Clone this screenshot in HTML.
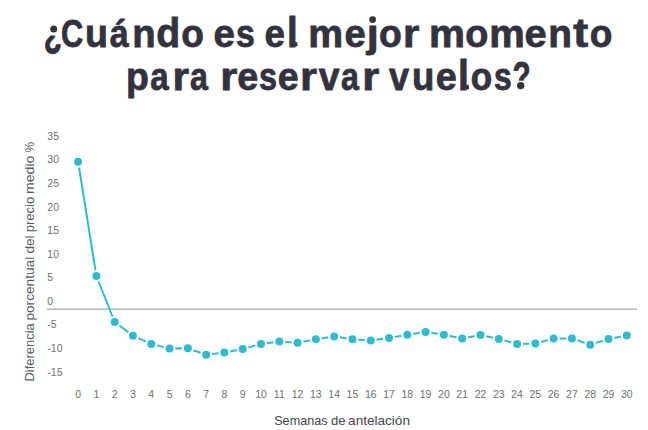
<!DOCTYPE html>
<html><head><meta charset="utf-8"><title>¿Cuándo es el mejor momento para reservar vuelos?</title>
<style>html,body{margin:0;padding:0;background:#fff;}body{width:648px;height:430px;overflow:hidden;font-family:"Liberation Sans",sans-serif;}svg{display:block;}</style>
</head><body>
<svg width="648" height="430" viewBox="0 0 648 430" role="img" aria-label="¿Cuándo es el mejor momento para reservar vuelos?">
<defs><clipPath id="c0"><rect x="40" y="35.6" width="26" height="24.4"/></clipPath><clipPath id="c1"><rect x="360" y="24.6" width="22" height="35.4"/></clipPath><clipPath id="c2"><rect x="508" y="55" width="27" height="25.799999999999997"/></clipPath></defs>
<g font-family="Liberation Sans, sans-serif" font-weight="bold" font-size="39" fill="#33333f" stroke="#33333f" stroke-width="0.8">
<g>
<g clip-path="url(#c0)"><text transform="translate(43.87,47.27) scale(0.761,1.076)">¿</text></g><circle cx="53.7" cy="29.0" r="3.5" stroke="none"/>
<text transform="translate(61.06,46.70) scale(0.791,1.000)">C</text>
<text transform="translate(84.89,46.70) scale(0.964,1.000)">u</text>
<text transform="translate(109.86,46.70) scale(0.873,1.000)">á</text>
<text transform="translate(132.30,46.70) scale(0.980,1.000)">n</text>
<text transform="translate(156.31,46.70) scale(1.005,1.040)">d</text>
<text transform="translate(181.17,46.70) scale(0.951,1.000)">o</text>
</g>
<g>
<text transform="translate(213.62,46.70) scale(0.985,1.000)">e</text>
<text transform="translate(235.93,46.70) scale(0.869,1.000)">s</text>
</g>
<g>
<text transform="translate(264.48,46.70) scale(0.943,1.000)">e</text>
<text transform="translate(286.94,46.70) scale(0.983,1.079)">l</text>
</g>
<g>
<text transform="translate(308.23,46.70) scale(1.006,1.000)">m</text>
<text transform="translate(344.53,46.70) scale(0.980,1.000)">e</text>
<g clip-path="url(#c1)"><text transform="translate(366.80,46.70) scale(1.110,1.000)">j</text></g><circle cx="372.6" cy="19.6" r="3.4" stroke="none"/>
<text transform="translate(379.06,46.70) scale(0.956,1.000)">o</text>
<text transform="translate(402.95,46.70) scale(1.079,1.000)">r</text>
</g>
<g>
<text transform="translate(428.96,46.70) scale(1.036,1.000)">m</text>
<text transform="translate(465.34,46.70) scale(0.970,1.000)">o</text>
<text transform="translate(489.19,46.70) scale(1.023,1.000)">m</text>
<text transform="translate(524.56,46.70) scale(1.023,1.000)">e</text>
<text transform="translate(548.16,46.70) scale(0.996,1.000)">n</text>
<text transform="translate(573.33,46.70) scale(1.150,1.034)">t</text>
<text transform="translate(589.77,46.70) scale(0.951,1.000)">o</text>
</g>
<g>
<text transform="translate(126.05,89.50) scale(0.960,1.000)">p</text>
<text transform="translate(150.25,89.50) scale(0.849,1.000)">a</text>
<text transform="translate(172.43,89.50) scale(1.087,1.000)">r</text>
<text transform="translate(190.08,89.50) scale(0.825,1.000)">a</text>
</g>
<g>
<text transform="translate(220.14,89.50) scale(1.120,1.000)">r</text>
<text transform="translate(237.24,89.50) scale(0.970,1.000)">e</text>
<text transform="translate(259.08,89.50) scale(0.831,1.000)">s</text>
<text transform="translate(277.75,89.50) scale(0.964,1.000)">e</text>
<text transform="translate(299.94,89.50) scale(1.120,1.000)">r</text>
<text transform="translate(318.67,89.50) scale(0.958,1.000)">v</text>
<text transform="translate(341.08,89.50) scale(0.825,1.000)">a</text>
<text transform="translate(362.14,89.50) scale(1.120,1.000)">r</text>
</g>
<g>
<text transform="translate(388.98,89.50) scale(0.925,1.000)">v</text>
<text transform="translate(411.95,89.50) scale(0.938,1.000)">u</text>
<text transform="translate(435.74,89.50) scale(0.970,1.000)">e</text>
<text transform="translate(458.09,89.50) scale(1.002,1.072)">l</text>
<text transform="translate(470.75,89.50) scale(0.898,1.000)">o</text>
<text transform="translate(494.00,89.50) scale(0.815,1.000)">s</text>
<g clip-path="url(#c2)"><text transform="translate(512.56,89.50) scale(0.761,1.036)">?</text></g><circle cx="520.7" cy="85.6" r="3.7" stroke="none"/>
</g>
<path d="M294.8,41.9 L297.3,42.2 L297.5,46.3 L294.6,46.6 Z M466.2,84.6 L468.8,84.9 L469.0,89.2 L465.9,89.5 Z" stroke="none"/>
</g>
<g font-family="Liberation Sans, sans-serif" font-size="10.5" fill="#6e6e6e">
<text x="47.3" y="139.81">35</text>
<text x="47.3" y="163.38">30</text>
<text x="47.3" y="186.95">25</text>
<text x="47.3" y="210.52">20</text>
<text x="47.3" y="234.09">15</text>
<text x="47.3" y="257.66">10</text>
<text x="47.3" y="281.23">5</text>
<text x="47.3" y="304.80">0</text>
<text x="47.3" y="328.37">-5</text>
<text x="47.3" y="351.94">-10</text>
<text x="47.3" y="375.51">-15</text>
</g>
<line x1="47" y1="309.25" x2="637" y2="309.25" stroke="#b5b5b5" stroke-width="1.5"/>
<g font-family="Liberation Sans, sans-serif" font-size="10.5" fill="#6e6e6e" text-anchor="middle">
<text x="78.10" y="397.6">0</text>
<text x="96.39" y="397.6">1</text>
<text x="114.68" y="397.6">2</text>
<text x="132.97" y="397.6">3</text>
<text x="151.26" y="397.6">4</text>
<text x="169.55" y="397.6">5</text>
<text x="187.84" y="397.6">6</text>
<text x="206.13" y="397.6">7</text>
<text x="224.42" y="397.6">8</text>
<text x="242.71" y="397.6">9</text>
<text x="261.00" y="397.6">10</text>
<text x="279.29" y="397.6">11</text>
<text x="297.58" y="397.6">12</text>
<text x="315.87" y="397.6">13</text>
<text x="334.16" y="397.6">14</text>
<text x="352.45" y="397.6">15</text>
<text x="370.74" y="397.6">16</text>
<text x="389.03" y="397.6">17</text>
<text x="407.32" y="397.6">18</text>
<text x="425.61" y="397.6">19</text>
<text x="443.90" y="397.6">20</text>
<text x="462.19" y="397.6">21</text>
<text x="480.48" y="397.6">22</text>
<text x="498.77" y="397.6">23</text>
<text x="517.06" y="397.6">24</text>
<text x="535.35" y="397.6">25</text>
<text x="553.64" y="397.6">26</text>
<text x="571.93" y="397.6">27</text>
<text x="590.22" y="397.6">28</text>
<text x="608.51" y="397.6">29</text>
<text x="626.80" y="397.6">30</text>
</g>
<g font-family="Liberation Sans, sans-serif" font-size="13" fill="#45454d">
<text x="274.23" y="424.9" textLength="53.23" lengthAdjust="spacingAndGlyphs">Semanas</text>
<text x="331.05" y="424.9" textLength="14.53" lengthAdjust="spacingAndGlyphs">de</text>
<text x="348.12" y="424.9" textLength="61.86" lengthAdjust="spacingAndGlyphs">antelación</text>
</g>
<g transform="translate(33.9,0) rotate(-90)" font-family="Liberation Sans, sans-serif" font-size="12.5" fill="#58585f">
<text x="-381.56" y="0" textLength="58.26" lengthAdjust="spacingAndGlyphs">Diferencia</text>
<text x="-320.58" y="0" textLength="63.79" lengthAdjust="spacingAndGlyphs">porcentual</text>
<text x="-253.57" y="0" textLength="18.18" lengthAdjust="spacingAndGlyphs">del</text>
<text x="-232.24" y="0" textLength="35.38" lengthAdjust="spacingAndGlyphs">precio</text>
<text x="-194.14" y="0" textLength="38.43" lengthAdjust="spacingAndGlyphs">medio</text>
<text x="-152.53" y="0" textLength="10.65" lengthAdjust="spacingAndGlyphs">%</text>
</g>
<polyline points="78.10,161.70 96.39,276.00 114.68,322.00 132.97,335.80 151.26,343.90 169.55,348.60 187.84,348.30 206.13,354.70 224.42,352.40 242.71,349.00 261.00,343.90 279.29,341.60 297.58,342.70 315.87,339.30 334.16,336.50 352.45,339.30 370.74,340.50 389.03,338.10 407.32,334.80 425.61,332.00 443.90,334.80 462.19,338.50 480.48,335.10 498.77,338.90 517.06,344.00 535.35,343.50 553.64,338.60 571.93,338.50 590.22,344.80 608.51,338.90 626.80,335.40" fill="none" stroke="#2ebbd0" stroke-width="2" stroke-linejoin="round"/>
<circle cx="78.10" cy="161.70" r="5" fill="#2ebbd0" stroke="#fff" stroke-width="2"/>
<circle cx="96.39" cy="276.00" r="5" fill="#2ebbd0" stroke="#fff" stroke-width="2"/>
<circle cx="114.68" cy="322.00" r="5" fill="#2ebbd0" stroke="#fff" stroke-width="2"/>
<circle cx="132.97" cy="335.80" r="5" fill="#2ebbd0" stroke="#fff" stroke-width="2"/>
<circle cx="151.26" cy="343.90" r="5" fill="#2ebbd0" stroke="#fff" stroke-width="2"/>
<circle cx="169.55" cy="348.60" r="5" fill="#2ebbd0" stroke="#fff" stroke-width="2"/>
<circle cx="187.84" cy="348.30" r="5" fill="#2ebbd0" stroke="#fff" stroke-width="2"/>
<circle cx="206.13" cy="354.70" r="5" fill="#2ebbd0" stroke="#fff" stroke-width="2"/>
<circle cx="224.42" cy="352.40" r="5" fill="#2ebbd0" stroke="#fff" stroke-width="2"/>
<circle cx="242.71" cy="349.00" r="5" fill="#2ebbd0" stroke="#fff" stroke-width="2"/>
<circle cx="261.00" cy="343.90" r="5" fill="#2ebbd0" stroke="#fff" stroke-width="2"/>
<circle cx="279.29" cy="341.60" r="5" fill="#2ebbd0" stroke="#fff" stroke-width="2"/>
<circle cx="297.58" cy="342.70" r="5" fill="#2ebbd0" stroke="#fff" stroke-width="2"/>
<circle cx="315.87" cy="339.30" r="5" fill="#2ebbd0" stroke="#fff" stroke-width="2"/>
<circle cx="334.16" cy="336.50" r="5" fill="#2ebbd0" stroke="#fff" stroke-width="2"/>
<circle cx="352.45" cy="339.30" r="5" fill="#2ebbd0" stroke="#fff" stroke-width="2"/>
<circle cx="370.74" cy="340.50" r="5" fill="#2ebbd0" stroke="#fff" stroke-width="2"/>
<circle cx="389.03" cy="338.10" r="5" fill="#2ebbd0" stroke="#fff" stroke-width="2"/>
<circle cx="407.32" cy="334.80" r="5" fill="#2ebbd0" stroke="#fff" stroke-width="2"/>
<circle cx="425.61" cy="332.00" r="5" fill="#2ebbd0" stroke="#fff" stroke-width="2"/>
<circle cx="443.90" cy="334.80" r="5" fill="#2ebbd0" stroke="#fff" stroke-width="2"/>
<circle cx="462.19" cy="338.50" r="5" fill="#2ebbd0" stroke="#fff" stroke-width="2"/>
<circle cx="480.48" cy="335.10" r="5" fill="#2ebbd0" stroke="#fff" stroke-width="2"/>
<circle cx="498.77" cy="338.90" r="5" fill="#2ebbd0" stroke="#fff" stroke-width="2"/>
<circle cx="517.06" cy="344.00" r="5" fill="#2ebbd0" stroke="#fff" stroke-width="2"/>
<circle cx="535.35" cy="343.50" r="5" fill="#2ebbd0" stroke="#fff" stroke-width="2"/>
<circle cx="553.64" cy="338.60" r="5" fill="#2ebbd0" stroke="#fff" stroke-width="2"/>
<circle cx="571.93" cy="338.50" r="5" fill="#2ebbd0" stroke="#fff" stroke-width="2"/>
<circle cx="590.22" cy="344.80" r="5" fill="#2ebbd0" stroke="#fff" stroke-width="2"/>
<circle cx="608.51" cy="338.90" r="5" fill="#2ebbd0" stroke="#fff" stroke-width="2"/>
<circle cx="626.80" cy="335.40" r="5" fill="#2ebbd0" stroke="#fff" stroke-width="2"/>
</svg>
</body></html>
